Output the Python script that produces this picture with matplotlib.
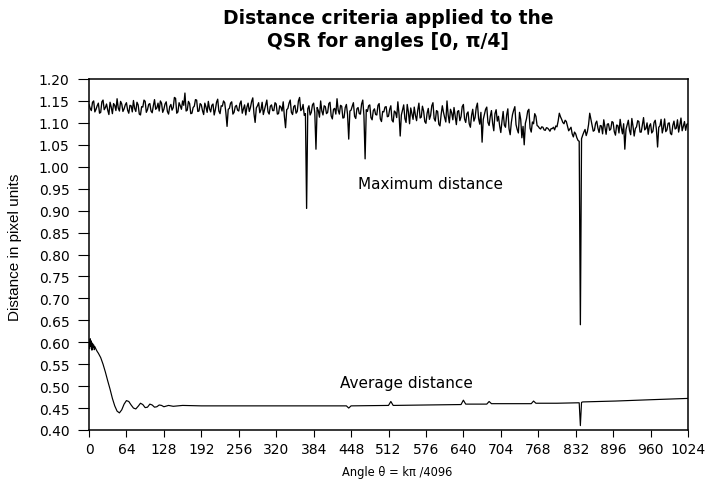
import numpy as np
import matplotlib
matplotlib.use("Agg")
import matplotlib.pyplot as plt
from matplotlib.ticker import MultipleLocator, FormatStrFormatter

# ---------------- data ----------------
# Maximum distance, sampled every 2 units of k (k = 0 .. 1024)
max_k = np.arange(0, 1025, 2)
max_vals = [
    1.142,1.133, 1.128,1.147, 1.150,1.125, 1.131,1.139, 1.145,1.122, 1.124,1.148, 1.152,1.130, 1.135,1.143, 1.129,1.119, 1.147,1.136, 1.121,1.144, 1.140,1.128, 1.155,1.134, 1.127,1.149, 1.143,1.126, 1.132,1.141,
    1.146,1.129, 1.122,1.140, 1.139,1.125, 1.151,1.133, 1.126,1.147, 1.141,1.120, 1.118,1.137, 1.136,1.152, 1.149,1.124, 1.130,1.142, 1.144,1.127, 1.123,1.139, 1.153,1.131, 1.134,1.145, 1.127,1.150, 1.145,1.124,
    1.131,1.143, 1.148,1.126, 1.120,1.137, 1.142,1.129, 1.135,1.158, 1.156,1.122, 1.125,1.146, 1.139,1.131, 1.150,1.140, 1.168,1.127, 1.129,1.149, 1.144,1.121, 1.122,1.135, 1.138,1.153, 1.152,1.126, 1.127,1.144,
    1.141,1.128, 1.119,1.145, 1.136,1.124, 1.149,1.132, 1.125,1.140, 1.143,1.118, 1.130,1.147, 1.154,1.127, 1.121,1.139, 1.138,1.150, 1.146,1.123, 1.092,1.131, 1.133,1.145, 1.148,1.120, 1.124,1.137, 1.140,1.129,
    1.127,1.144, 1.150,1.122, 1.132,1.141, 1.118,1.136, 1.145,1.126, 1.135,1.149, 1.157,1.121, 1.101,1.134, 1.139,1.146, 1.123,1.130, 1.147,1.119, 1.130,1.142, 1.152,1.125, 1.120,1.138, 1.141,1.128, 1.128,1.146,
    1.143,1.120, 1.121,1.139, 1.136,1.127, 1.148,1.115, 1.089,1.130, 1.133,1.145, 1.152,1.124, 1.119,1.137, 1.140,1.122, 1.126,1.150, 1.158,1.128, 1.131,1.142, 1.117,1.121, 0.905,1.132, 1.139,1.118, 1.124,1.141,
    1.145,1.123, 1.040,1.135, 1.128,1.113, 1.150,1.127, 1.118,1.139, 1.137,1.121, 1.124,1.144, 1.147,1.116, 1.109,1.131, 1.133,1.120, 1.155,1.129, 1.120,1.140, 1.138,1.111, 1.112,1.135, 1.142,1.119, 1.063,1.127,
    1.129,1.138, 1.146,1.115, 1.110,1.132, 1.135,1.121, 1.120,1.143, 1.152,1.117, 1.018,1.130, 1.126,1.139, 1.141,1.112, 1.107,1.128, 1.132,1.119, 1.118,1.140, 1.144,1.109, 1.103,1.126, 1.125,1.136, 1.137,1.114,
    1.115,1.131, 1.139,1.106, 1.102,1.127, 1.124,1.112, 1.148,1.120, 1.070,1.118, 1.130,1.141, 1.110,1.101, 1.142,1.125, 1.098,1.134, 1.121,1.108, 1.136,1.117, 1.105,1.129, 1.145,1.111, 1.113,1.138, 1.127,1.103,
    1.099,1.122, 1.133,1.108, 1.117,1.139, 1.146,1.110, 1.104,1.128, 1.126,1.097, 1.093,1.119, 1.139,1.124, 1.112,1.102, 1.150,1.118, 1.100,1.131, 1.123,1.107, 1.135,1.116, 1.096,1.126, 1.128,1.105, 1.114,1.137,
    1.142,1.109, 1.101,1.121, 1.125,1.098, 1.090,1.117, 1.131,1.104, 1.112,1.135, 1.145,1.110, 1.097,1.124, 1.056,1.108, 1.120,1.131, 1.136,1.101, 1.094,1.115, 1.128,1.099, 1.082,1.121, 1.130,1.104, 1.115,1.093,
    1.078,1.104, 1.126,1.095, 1.090,1.118, 1.132,1.087, 1.073,1.101, 1.119,1.129, 1.137,1.096, 1.085,1.077, 1.124,1.108, 1.066,1.092, 1.050,1.099, 1.110,1.127, 1.131,1.088, 1.079,1.102, 1.098,1.121, 1.115,1.094,
    1.092,1.088, 1.086,1.091, 1.090,1.084, 1.083,1.089, 1.088,1.085, 1.081,1.087, 1.087,1.090, 1.084,1.093, 1.091,1.104, 1.122,1.114, 1.108,1.101, 1.098,1.106, 1.103,1.092, 1.082,1.086, 1.090,1.075, 1.068,1.079,
    1.075,1.066, 1.060,1.058, 0.640,1.064, 1.072,1.079, 1.085,1.071, 1.080,1.096, 1.122,1.108, 1.095,1.081, 1.083,1.099, 1.104,1.088, 1.078,1.094, 1.093,1.075, 1.107,1.090, 1.074,1.097, 1.098,1.083, 1.086,1.103,
    1.101,1.080, 1.072,1.095, 1.094,1.077, 1.108,1.089, 1.075,1.098, 1.040,1.085, 1.096,1.106, 1.083,1.073, 1.110,1.092, 1.070,1.087, 1.091,1.105, 1.103,1.079, 1.079,1.096, 1.112,1.084, 1.087,1.100, 1.074,1.093,
    1.098,1.077, 1.081,1.101, 1.106,1.085, 1.045,1.090, 1.093,1.108, 1.077,1.089, 1.109,1.080, 1.084,1.099, 1.100,1.076, 1.073,1.094, 1.104,1.086, 1.088,1.107, 1.079,1.095, 1.111,1.082, 1.092,1.103, 1.083,1.097,
    1.098,
]

# Average distance
avg_k = [0, 1, 2, 3, 4, 5, 6, 7, 8, 9, 10, 12, 14, 16, 18, 20, 24, 28, 32, 36,
         40, 44, 48, 52, 56, 60, 64, 68, 72, 76, 80, 84, 88, 92, 96, 100, 104, 108,
         112, 116, 120, 124, 128, 136, 144, 160, 192, 256, 320, 384, 440, 444, 448,
         512, 516, 520, 576, 636, 640, 644, 680, 684, 688, 756, 760, 764, 800, 836,
         838, 840, 842, 844, 900, 960, 1024]
avg_vals = [0.600, 0.585, 0.608, 0.590, 0.603, 0.582, 0.598, 0.588, 0.594, 0.583,
            0.590, 0.584, 0.579, 0.575, 0.570, 0.565, 0.550, 0.532, 0.512, 0.493,
            0.472, 0.455, 0.443, 0.439, 0.446, 0.459, 0.467, 0.465, 0.457, 0.450,
            0.448, 0.454, 0.461, 0.458, 0.451, 0.452, 0.459, 0.457, 0.452, 0.453,
            0.457, 0.456, 0.453, 0.456, 0.454, 0.456, 0.455, 0.455, 0.455, 0.455,
            0.455, 0.450, 0.455, 0.456, 0.465, 0.456, 0.457, 0.458, 0.468, 0.459,
            0.459, 0.465, 0.460, 0.460, 0.466, 0.461, 0.461, 0.462, 0.462, 0.410,
            0.463, 0.464, 0.466, 0.469, 0.472]

title_text = "Distance criteria applied to the\nQSR for angles [0, \u03c0/4]"
xlabel_text = "Angle \u03b8 = k\u03c0 /4096"
ylabel_text = "Distance in pixel units"
max_label = "Maximum distance"
avg_label = "Average distance"

# ---------------- figure ----------------
plt.rcParams['font.family'] = ['DejaVu Sans']
fig = plt.figure(figsize=(7.08, 4.85), dpi=100)
ax = fig.add_axes([89 / 708, 1 - 431 / 485, 599 / 708, 351 / 485])

ax.plot(max_k, max_vals, color='black', lw=0.95)
ax.plot(avg_k, avg_vals, color='black', lw=0.85)

ax.set_xlim(0, 1024)
ax.set_ylim(0.40, 1.20)
ax.xaxis.set_major_locator(MultipleLocator(64))
ax.yaxis.set_major_locator(MultipleLocator(0.05))
ax.yaxis.set_major_formatter(FormatStrFormatter('%.2f'))
ax.tick_params(direction='out', width=0.8, labelsize=10, colors='black')
ax.tick_params(axis='y', length=8, pad=6)
ax.tick_params(axis='x', length=5, pad=4)
for s in ax.spines.values():
    s.set_linewidth(1.1)
    s.set_color('black')

ax.text(583, 0.961, max_label, ha='center', va='center', fontsize=11)
ax.text(542, 0.509, avg_label, ha='center', va='center', fontsize=11)

fig.text(388 / 708, 1 - 30 / 485, title_text, ha='center', va='center',
         fontsize=13.5, fontweight='bold', linespacing=1.3)
fig.text(397 / 708, 1 - 473 / 485, xlabel_text, ha='center', va='center', fontsize=8.3)
fig.text(15 / 708, 1 - 247 / 485, ylabel_text, ha='center', va='center',
         rotation=90, fontsize=11, family='Liberation Sans')

fig.savefig('out.png', dpi=100)
